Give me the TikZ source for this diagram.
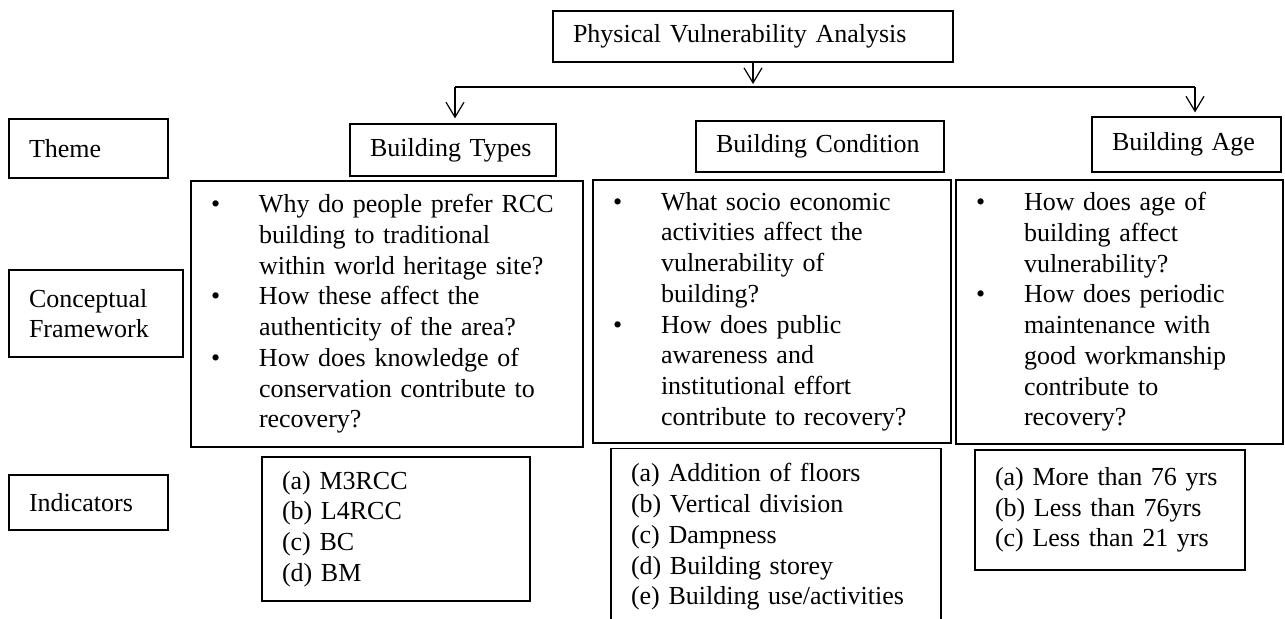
\documentclass[tikz,border=0pt]{standalone}
\usepackage{fontspec}
\setmainfont{Liberation Serif}
\usetikzlibrary{arrows.meta}
\newcommand{\qbul}{\makebox[24pt][l]{\textbullet}}
\newcommand{\qind}{\hspace*{24pt}}
\begin{document}
\begin{tikzpicture}[x=0.5pt,y=-0.5pt,
  box/.style={draw,line width=0.6pt,inner xsep=10pt,inner ysep=0pt,align=left,
    font=\fontsize{13}{15.35}\selectfont},
  arr/.style={line width=0.6pt,-{Straight Barb[length=7.5pt,width=9pt]}}]
\path[use as bounding box,clip] (0,0) rectangle (1285,619);
\node[box,text width=180pt,minimum height=25.5pt] (pva) at (753,36.5) {Physical Vulnerability Analysis};
% row labels
\node[box,text width=59.5pt,minimum height=29.5pt] (theme) at (88.5,148.5) {Theme};
\node[box,text width=67pt,minimum height=43.5pt] (concept) at (96,313.5) {Conceptual\\Framework};
\node[box,text width=59.5pt,minimum height=27.5pt] (indic) at (88.5,502.5) {Indicators};
% themes
\node[box,text width=83pt,minimum height=26pt] (types) at (453,150) {Building Types};
\node[box,text width=104pt,minimum height=25.5pt] (cond) at (820,146.5) {Building Condition};
\node[box,text width=74.5pt,minimum height=27.5pt] (age) at (1186.5,144.5) {Building Age};
% questions
\node[box,text width=176pt,minimum height=133pt] (q1) at (387,314) {\qbul Why do people prefer RCC\\
  \qind building to traditional\\ \qind within world heritage site?\\
  \qbul How these affect the\\ \qind authenticity of the area?\\
  \qbul How does knowledge of\\ \qind conservation contribute to\\ \qind recovery?};
\node[box,text width=159pt,minimum height=131.5pt] (q2) at (772,311.5) {\qbul What socio economic\\
  \qind activities affect the\\ \qind vulnerability of\\ \qind building?\\
  \qbul How does public\\ \qind awareness and\\ \qind institutional effort\\
  \qind contribute to recovery?};
\node[box,text width=143.5pt,minimum height=132pt] (q3) at (1119.5,312) {\qbul How does age of\\
  \qind building affect\\ \qind vulnerability?\\
  \qbul How does periodic\\ \qind maintenance with\\ \qind good workmanship\\
  \qind contribute to\\ \qind recovery?};
% indicators
\node[box,text width=114pt,minimum height=72pt] (ind1) at (396,529) {(a) M3RCC\\(b) L4RCC\\(c) BC\\(d) BM};
\node[box,anchor=north,text width=145pt,inner ysep=7.5pt] (ind2) at (776,448) {(a) Addition of floors\\
  (b) Vertical division\\(c) Dampness\\(d) Building storey\\(e) Building use/activities};
\node[box,text width=115pt,minimum height=60pt] (ind3) at (1110,510) {(a) More than 76 yrs\\
  (b) Less than 76yrs\\(c) Less than 21 yrs};
% arrows
\coordinate (hub) at (753,84);
\coordinate (jl) at (455,87);
\coordinate (jr) at (1195,87);
\draw[arr] (pva) -- (hub);
\draw[line width=0.6pt] (jl) -- (jr);
\draw[arr,shorten >=2.5pt] (jl) -- (jl |- types.north);
\draw[arr,shorten >=2pt] (jr) -- (jr |- age.north);
\end{tikzpicture}
\end{document}
